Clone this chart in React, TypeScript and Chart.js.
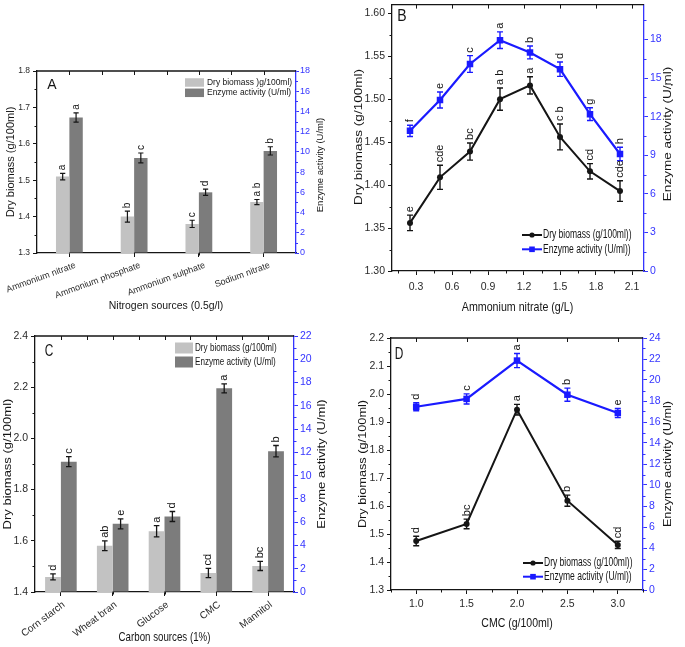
import React, { useEffect, useRef } from 'react';
import { Chart, registerables } from 'chart.js';

Chart.register(...registerables);

const SANS = "'Liberation Sans', Arial, Helvetica, sans-serif";
const NARROW = "'Liberation Sans Narrow', 'Arial Narrow', 'Liberation Sans', Arial, sans-serif";
const INK = '#151515';
const LABEL = '#2a2a2a';
const BLUE = '#1a1aff';
const AXIS_BLUE = '#3535ff';
const LIGHT_BAR = '#c2c2c2';
const DARK_BAR = '#7c7c7c';

// ---------- Panel A : nitrogen sources ----------
const nitrogenSources = ['Ammonium nitrate', 'Ammonium phosphate', 'Ammonium sulphate', 'Sodium nitrate'];
const nitrogenBiomass = [1.51, 1.40, 1.38, 1.44];
const nitrogenBiomassErr = [0.009, 0.015, 0.01, 0.007];
const nitrogenEnzyme = [13.4, 9.4, 6.0, 10.1];
const nitrogenEnzymeErr = [0.46, 0.49, 0.31, 0.41];
const nitrogenBiomassLetters = ['a', 'b', 'c', 'a b'];
const nitrogenEnzymeLetters = ['a', 'c', 'd', 'b'];

// ---------- Panel B : ammonium nitrate dose ----------
const nitrateDoses = [0.25, 0.5, 0.75, 1.0, 1.25, 1.5, 1.75, 2.0];
const nitrateBiomass = [1.356, 1.409, 1.439, 1.500, 1.516, 1.456, 1.416, 1.393];
const nitrateBiomassErr = [0.009, 0.014, 0.01, 0.013, 0.01, 0.015, 0.009, 0.012];
const nitrateEnzyme = [10.9, 13.3, 16.1, 17.95, 17.0, 15.7, 12.2, 9.1];
const nitrateEnzymeErr = [0.44, 0.62, 0.65, 0.65, 0.5, 0.56, 0.5, 0.52];
const nitrateBiomassLetters = ['e', 'cde', 'bc', 'a b', 'a', 'c b', 'cd', 'cde'];
const nitrateEnzymeLetters = ['f', 'e', 'c', 'a', 'b', 'd', 'g', 'h'];

// ---------- Panel C : carbon sources ----------
const carbonSources = ['Corn starch', 'Wheat bran', 'Glucose', 'CMC', 'Mannitol'];
const carbonBiomass = [1.459, 1.581, 1.637, 1.474, 1.502];
const carbonBiomassErr = [0.012, 0.019, 0.022, 0.018, 0.018];
const carbonEnzyme = [11.2, 5.86, 6.49, 17.5, 12.1];
const carbonEnzymeErr = [0.43, 0.43, 0.43, 0.39, 0.49];
const carbonBiomassLetters = ['d', 'ab', 'a', 'cd', 'bc'];
const carbonEnzymeLetters = ['c', 'e', 'd', 'a', 'b'];

// ---------- Panel D : CMC dose ----------
const cmcDoses = [1.0, 1.5, 2.0, 2.5, 3.0];
const cmcBiomass = [1.475, 1.536, 1.944, 1.619, 1.461];
const cmcBiomassErr = [0.017, 0.017, 0.019, 0.02, 0.013];
const cmcEnzyme = [17.45, 18.2, 21.85, 18.6, 16.85];
const cmcEnzymeErr = [0.38, 0.48, 0.67, 0.63, 0.43];
const cmcBiomassLetters = ['d', 'bc', 'a', 'b', 'cd'];
const cmcEnzymeLetters = ['d', 'c', 'a', 'b', 'e'];

// ---------- helpers ----------
function stepValues(min: number, max: number, step: number): number[] {
  const out: number[] = [];
  const k0 = Math.ceil(min / step - 1e-7);
  const k1 = Math.floor(max / step + 1e-7);
  for (let k = k0; k <= k1; k++) out.push(Math.round(k * step * 1e6) / 1e6);
  return out;
}
function minorValues(min: number, max: number, minor: number, major: number): number[] {
  return stepValues(min, max, minor).filter((v) => {
    const r = v / major;
    return Math.abs(r - Math.round(r)) > 1e-6;
  });
}

type TextOpt = { sx?: number; rot?: boolean; align?: CanvasTextAlign; baseline?: CanvasTextBaseline; color?: string; family?: string };
function drawText(ctx: CanvasRenderingContext2D, str: string, x: number, y: number, size: number, o: TextOpt = {}) {
  ctx.save();
  ctx.translate(x, y);
  ctx.scale(o.sx ?? 1, 1);
  if (o.rot) ctx.rotate(-Math.PI / 2);
  ctx.font = `${size}px ${o.family ?? SANS}`;
  ctx.fillStyle = o.color ?? INK;
  ctx.textAlign = o.align ?? 'center';
  ctx.textBaseline = o.baseline ?? 'middle';
  ctx.fillText(str, 0, 0);
  ctx.restore();
}

type Decor = {
  errorsUnder: boolean;
  errors: { ds: number; err: number[]; color: string; width: number; cap: number }[];
  letters: { ds: number; labels: string[]; size: number }[];
  minor: { axis: string; values: number[]; len: number; color: string }[];
  top: { values: number[]; len: number };
  titles: { text: string; x: number; y: number; size: number; rot?: boolean; sx?: number }[];
  panel: { text: string; x: number; y: number; size: number; sx: number };
  legend: {
    kind: 'box' | 'line';
    x1: number; x2: number; h?: number; textX: number; size: number; sx: number;
    items: { label: string; color: string; y: number; point?: 'circle' | 'rect' }[];
  };
  dot?: { x: number; y: number };
};

function valueOf(raw: any): number {
  return typeof raw === 'number' ? raw : raw.y;
}

function drawErrors(chart: any, d: Decor, index: number) {
  const ctx: CanvasRenderingContext2D = chart.ctx;
  d.errors.filter((e) => e.ds === index).forEach((e) => {
    const ds = chart.data.datasets[e.ds];
    const meta = chart.getDatasetMeta(e.ds);
    const scale = chart.scales[ds.yAxisID];
    ctx.save();
    ctx.strokeStyle = e.color;
    ctx.lineWidth = e.width;
    meta.data.forEach((el: any, i: number) => {
      const v = valueOf(ds.data[i]);
      const yt = scale.getPixelForValue(v + e.err[i]);
      const yb = scale.getPixelForValue(v - e.err[i]);
      const x = el.x;
      ctx.beginPath();
      ctx.moveTo(x, yt); ctx.lineTo(x, yb);
      ctx.moveTo(x - e.cap, yt); ctx.lineTo(x + e.cap, yt);
      ctx.moveTo(x - e.cap, yb); ctx.lineTo(x + e.cap, yb);
      ctx.stroke();
    });
    ctx.restore();
  });
}

function decorPlugin(d: Decor) {
  return {
    id: 'decor',
    beforeDatasetDraw(chart: any, args: any) {
      if (d.errorsUnder) drawErrors(chart, d, args.index);
    },
    afterDatasetDraw(chart: any, args: any) {
      if (!d.errorsUnder) drawErrors(chart, d, args.index);
    },
    afterDraw(chart: any) {
      const ctx: CanvasRenderingContext2D = chart.ctx;
      const a = chart.chartArea;
      // letters above error bars
      d.letters.forEach((L) => {
        const ds = chart.data.datasets[L.ds];
        const meta = chart.getDatasetMeta(L.ds);
        const scale = chart.scales[ds.yAxisID];
        const errs = d.errors.find((e) => e.ds === L.ds)!.err;
        meta.data.forEach((el: any, i: number) => {
          const v = valueOf(ds.data[i]);
          const y = scale.getPixelForValue(v + errs[i]) - 3;
          drawText(ctx, L.labels[i], el.x, y, L.size, { rot: true, align: 'left', baseline: 'middle' });
        });
      });
      // top frame line with ticks
      ctx.save();
      ctx.strokeStyle = INK;
      ctx.lineWidth = 1.3;
      ctx.beginPath();
      ctx.moveTo(a.left, a.top); ctx.lineTo(a.right, a.top);
      ctx.stroke();
      ctx.lineWidth = 1;
      ctx.beginPath();
      d.top.values.forEach((v) => {
        const x = Math.round(chart.scales.x.getPixelForValue(v)) + 0.5;
        ctx.moveTo(x, a.top); ctx.lineTo(x, a.top + d.top.len);
      });
      ctx.stroke();
      // minor ticks
      d.minor.forEach((m) => {
        const s = chart.scales[m.axis];
        ctx.strokeStyle = m.color;
        ctx.beginPath();
        m.values.forEach((v) => {
          const p = Math.round(s.getPixelForValue(v)) + 0.5;
          if (m.axis === 'x') { ctx.moveTo(p, a.bottom); ctx.lineTo(p, a.bottom + m.len); }
          else if (s.position === 'left') { ctx.moveTo(a.left, p); ctx.lineTo(a.left - m.len, p); }
          else { ctx.moveTo(a.right, p); ctx.lineTo(a.right + m.len, p); }
        });
        ctx.stroke();
      });
      ctx.restore();
      // titles
      d.titles.forEach((t) => drawText(ctx, t.text, t.x, t.y, t.size, { rot: t.rot, sx: t.sx }));
      // panel letter
      drawText(ctx, d.panel.text, d.panel.x, d.panel.y, d.panel.size, { sx: d.panel.sx });
      // legend
      const lg = d.legend;
      lg.items.forEach((it) => {
        ctx.save();
        if (lg.kind === 'box') {
          ctx.fillStyle = it.color;
          ctx.fillRect(lg.x1, it.y - (lg.h ?? 8) / 2, lg.x2 - lg.x1, lg.h ?? 8);
        } else {
          ctx.strokeStyle = it.color;
          ctx.fillStyle = it.color;
          ctx.lineWidth = 2;
          ctx.beginPath();
          ctx.moveTo(lg.x1, it.y); ctx.lineTo(lg.x2, it.y);
          ctx.stroke();
          const cx = (lg.x1 + lg.x2) / 2;
          ctx.beginPath();
          if (it.point === 'circle') ctx.arc(cx, it.y, 2.6, 0, Math.PI * 2);
          else ctx.rect(cx - 2.8, it.y - 2.8, 5.6, 5.6);
          ctx.fill();
        }
        ctx.restore();
        drawText(ctx, it.label, lg.textX, it.y, lg.size, { sx: lg.sx, align: 'left' });
      });
      if (d.dot) {
        ctx.fillStyle = '#333';
        ctx.fillRect(d.dot.x, d.dot.y, 1.6, 1.6);
      }
    },
  };
}

type AxisP = {
  position: 'left' | 'right' | 'bottom'; min: number; max: number; step: number; dec: number;
  size: number; family: string; color: string; labelColor?: string; fit: number; tickLen?: number; pad?: number;
};
function linAxis(p: AxisP) {
  const isX = p.position === 'bottom';
  return {
    type: 'linear',
    position: p.position,
    min: p.min,
    max: p.max,
    afterBuildTicks: (s: any) => {
      s.ticks = stepValues(p.min, p.max, p.step).map((v) => ({ value: v }));
    },
    afterFit: (s: any) => {
      if (isX) { s.height = p.fit; s.paddingLeft = 0; s.paddingRight = 0; }
      else { s.width = p.fit; s.paddingTop = 0; s.paddingBottom = 0; }
    },
    grid: { drawOnChartArea: false, drawTicks: true, tickLength: p.tickLen ?? 4, color: p.color, tickColor: p.color, lineWidth: 1 },
    border: { display: true, color: p.color, width: 1.3 },
    ticks: {
      stepSize: p.step, autoSkip: false, maxTicksLimit: 40,
      minRotation: 0, maxRotation: 0, padding: p.pad ?? 3,
      color: p.labelColor ?? p.color,
      font: { family: p.family, size: p.size },
      callback: (v: any) => Number(v).toFixed(p.dec),
    },
  };
}

function catAxis(fit: number, size: number, rot: number, offsetX: number, family: string) {
  return {
    type: 'category',
    position: 'bottom',
    offset: true,
    afterFit: (s: any) => { s.height = fit; s.paddingLeft = 0; s.paddingRight = 0; },
    grid: { offset: false, drawOnChartArea: false, drawTicks: true, tickLength: 4, color: INK, tickColor: INK },
    border: { display: true, color: INK, width: 1.3 },
    ticks: {
      autoSkip: false, minRotation: rot, maxRotation: rot, padding: 3, labelOffset: offsetX,
      color: LABEL, font: { family, size },
    },
  };
}

function baseOptions(top: number) {
  return {
    responsive: false,
    animation: false,
    devicePixelRatio: 1,
    layout: { padding: { left: 0, right: 0, top, bottom: 0 } },
    plugins: { legend: { display: false }, tooltip: { enabled: false } },
  };
}

function buildA() {
  const n = nitrogenSources.length;
  const decor: Decor = {
    errorsUnder: false,
    errors: [
      { ds: 0, err: nitrogenBiomassErr, color: INK, width: 1.2, cap: 2.6 },
      { ds: 1, err: nitrogenEnzymeErr, color: INK, width: 1.2, cap: 2.6 },
    ],
    letters: [
      { ds: 0, labels: nitrogenBiomassLetters, size: 10 },
      { ds: 1, labels: nitrogenEnzymeLetters, size: 10 },
    ],
    minor: [
      { axis: 'y', values: minorValues(1.3, 1.8, 0.05, 0.1), len: 2.5, color: INK },
      { axis: 'y1', values: minorValues(0, 18, 1, 2), len: 2, color: AXIS_BLUE },
      { axis: 'x', values: stepValues(0.5, n - 1.5, 1), len: 2.5, color: INK },
    ],
    top: { values: stepValues(0, n - 1, 0.5), len: 4 },
    titles: [
      { text: 'Dry biomass (g/100ml)', x: 11, y: 162, size: 11, rot: true },
      { text: 'Enzyme activity (U/ml)', x: 320, y: 165, size: 9.5, rot: true },
      { text: 'Nitrogen sources (0.5g/l)', x: 166, y: 306, size: 11, sx: 0.95 },
    ],
    panel: { text: 'A', x: 52, y: 85, size: 14, sx: 1 },
    legend: {
      kind: 'box', x1: 185, x2: 204, h: 8.5, textX: 207, size: 9.3, sx: 0.91,
      items: [
        { label: 'Dry biomass )g/100ml)', color: LIGHT_BAR, y: 82.5 },
        { label: 'Enzyme activity (U/ml)', color: DARK_BAR, y: 92.8 },
      ],
    },
  };
  return {
    type: 'bar',
    data: {
      labels: nitrogenSources,
      datasets: [
        { label: 'Dry biomass', data: nitrogenBiomass, backgroundColor: LIGHT_BAR, yAxisID: 'y', categoryPercentage: 0.414, barPercentage: 1 },
        { label: 'Enzyme activity', data: nitrogenEnzyme, backgroundColor: DARK_BAR, yAxisID: 'y1', categoryPercentage: 0.414, barPercentage: 1 },
      ],
    },
    options: {
      ...baseOptions(71),
      scales: {
        x: catAxis(65, 9, 20, 6, SANS),
        y: linAxis({ position: 'left', min: 1.3, max: 1.8, step: 0.1, dec: 1, size: 8.5, family: SANS, color: INK, labelColor: LABEL, fit: 37 }),
        y1: linAxis({ position: 'right', min: 0, max: 18, step: 2, dec: 0, size: 9, family: SANS, color: AXIS_BLUE, fit: 44, tickLen: 3, pad: 1 }),
      },
    },
    plugins: [decorPlugin(decor)],
  };
}

function buildB() {
  const decor: Decor = {
    errorsUnder: true,
    errors: [
      { ds: 0, err: nitrateBiomassErr, color: INK, width: 1.4, cap: 3 },
      { ds: 1, err: nitrateEnzymeErr, color: BLUE, width: 1.4, cap: 3 },
    ],
    letters: [
      { ds: 0, labels: nitrateBiomassLetters, size: 11 },
      { ds: 1, labels: nitrateEnzymeLetters, size: 11 },
    ],
    minor: [
      { axis: 'y', values: minorValues(1.3, 1.61, 0.025, 0.05), len: 2.5, color: INK },
      { axis: 'y1', values: minorValues(0, 20.72, 1.5, 3), len: 2.5, color: AXIS_BLUE },
      { axis: 'x', values: minorValues(0.1, 2.2, 0.15, 0.3), len: 2.5, color: INK },
    ],
    top: { values: stepValues(0.3, 2.1, 0.3), len: 4 },
    titles: [
      { text: 'Dry biomass (g/100ml)', x: 19, y: 137, size: 13.5, rot: true, sx: 0.85 },
      { text: 'Enzyme activity (U/ml)', x: 328, y: 134, size: 13.5, rot: true, sx: 0.85 },
      { text: 'Ammonium nitrate (g/L)', x: 177.5, y: 307, size: 13, sx: 0.82 },
    ],
    panel: { text: 'B', x: 62, y: 16, size: 16.5, sx: 0.85 },
    legend: {
      kind: 'line', x1: 182, x2: 202, textX: 203, size: 12, sx: 0.71,
      items: [
        { label: 'Dry biomass (g/100ml))', color: INK, y: 235, point: 'circle' },
        { label: 'Enzyme activity (U/ml))', color: BLUE, y: 249.3, point: 'rect' },
      ],
    },
    dot: { x: 331, y: 84 },
  };
  return {
    type: 'line',
    data: {
      datasets: [
        {
          label: 'Dry biomass (g/100ml))',
          data: nitrateDoses.map((x, i) => ({ x, y: nitrateBiomass[i] })),
          borderColor: INK, backgroundColor: INK, borderWidth: 2, tension: 0,
          pointStyle: 'circle', pointRadius: 3, pointBorderWidth: 0, yAxisID: 'y',
        },
        {
          label: 'Enzyme activity (U/ml))',
          data: nitrateDoses.map((x, i) => ({ x, y: nitrateEnzyme[i] })),
          borderColor: BLUE, backgroundColor: BLUE, borderWidth: 2.2, tension: 0,
          pointStyle: 'rect', pointRadius: 4.6, pointBorderWidth: 0, yAxisID: 'y1',
        },
      ],
    },
    options: {
      ...baseOptions(3),
      scales: {
        x: linAxis({ position: 'bottom', min: 0.1, max: 2.2, step: 0.3, dec: 1, size: 10.5, family: NARROW, color: INK, labelColor: LABEL, fit: 47, pad: 6 }),
        y: linAxis({ position: 'left', min: 1.3, max: 1.61, step: 0.05, dec: 2, size: 10.5, family: NARROW, color: INK, labelColor: LABEL, fit: 52 }),
        y1: linAxis({ position: 'right', min: 0, max: 20.72, step: 3, dec: 0, size: 10.5, family: NARROW, color: AXIS_BLUE, fit: 41, pad: 2 }),
      },
    },
    plugins: [decorPlugin(decor)],
  };
}

function buildC() {
  const n = carbonSources.length;
  const decor: Decor = {
    errorsUnder: false,
    errors: [
      { ds: 0, err: carbonBiomassErr, color: INK, width: 1.3, cap: 2.8 },
      { ds: 1, err: carbonEnzymeErr, color: INK, width: 1.3, cap: 2.8 },
    ],
    letters: [
      { ds: 0, labels: carbonBiomassLetters, size: 11 },
      { ds: 1, labels: carbonEnzymeLetters, size: 11 },
    ],
    minor: [
      { axis: 'y', values: minorValues(1.4, 2.4, 0.1, 0.2), len: 2.5, color: INK },
      { axis: 'y1', values: minorValues(0, 22, 1, 2), len: 2.5, color: AXIS_BLUE },
      { axis: 'x', values: stepValues(0.5, n - 1.5, 1), len: 2.5, color: INK },
    ],
    top: { values: stepValues(0, n - 1, 0.5), len: 4 },
    titles: [
      { text: 'Dry biomass (g/100ml)', x: 8, y: 146, size: 13, rot: true, sx: 0.85 },
      { text: 'Enzyme activity (U/ml)', x: 321.7, y: 146, size: 13, rot: true, sx: 0.85 },
      { text: 'Carbon sources (1%)', x: 164.5, y: 319.3, size: 13.5, sx: 0.72 },
    ],
    panel: { text: 'C', x: 49, y: 33, size: 16.5, sx: 0.72 },
    legend: {
      kind: 'box', x1: 175, x2: 193, h: 11, textX: 195, size: 11.6, sx: 0.7,
      items: [
        { label: 'Dry biomass (g/100ml)', color: LIGHT_BAR, y: 30 },
        { label: 'Enzyme activity (U/ml)', color: DARK_BAR, y: 44 },
      ],
    },
  };
  return {
    type: 'bar',
    data: {
      labels: carbonSources,
      datasets: [
        { label: 'Dry biomass', data: carbonBiomass, backgroundColor: LIGHT_BAR, yAxisID: 'y', categoryPercentage: 0.61, barPercentage: 1 },
        { label: 'Enzyme activity', data: carbonEnzyme, backgroundColor: DARK_BAR, yAxisID: 'y1', categoryPercentage: 0.61, barPercentage: 1 },
      ],
    },
    options: {
      ...baseOptions(18),
      scales: {
        x: catAxis(55, 10, 37, 3, SANS),
        y: linAxis({ position: 'left', min: 1.4, max: 2.4, step: 0.2, dec: 1, size: 10.5, family: NARROW, color: INK, labelColor: LABEL, fit: 35 }),
        y1: linAxis({ position: 'right', min: 0, max: 22, step: 2, dec: 0, size: 10.5, family: NARROW, color: AXIS_BLUE, fit: 46, pad: 2 }),
      },
    },
    plugins: [decorPlugin(decor)],
  };
}

function buildD() {
  const decor: Decor = {
    errorsUnder: true,
    errors: [
      { ds: 0, err: cmcBiomassErr, color: INK, width: 1.4, cap: 3 },
      { ds: 1, err: cmcEnzymeErr, color: BLUE, width: 1.4, cap: 3 },
    ],
    letters: [
      { ds: 0, labels: cmcBiomassLetters, size: 11 },
      { ds: 1, labels: cmcEnzymeLetters, size: 11 },
    ],
    minor: [
      { axis: 'y', values: minorValues(1.3, 2.2, 0.05, 0.1), len: 2.5, color: INK },
      { axis: 'y1', values: minorValues(0, 24, 1, 2), len: 2.5, color: AXIS_BLUE },
      { axis: 'x', values: minorValues(0.75, 3.25, 0.25, 0.5), len: 2.5, color: INK },
    ],
    top: { values: stepValues(1.0, 3.0, 0.5), len: 4 },
    titles: [
      { text: 'Dry biomass (g/100ml)', x: 23.3, y: 146, size: 12.75, rot: true, sx: 0.85 },
      { text: 'Enzyme activity (U/ml)', x: 328.3, y: 146, size: 12.7, rot: true, sx: 0.85 },
      { text: 'CMC (g/100ml)', x: 177, y: 305.3, size: 13.5, sx: 0.78 },
    ],
    panel: { text: 'D', x: 59, y: 36, size: 16.5, sx: 0.72 },
    legend: {
      kind: 'line', x1: 183, x2: 203, textX: 204, size: 12, sx: 0.71,
      items: [
        { label: 'Dry biomass (g/100ml))', color: INK, y: 245, point: 'circle' },
        { label: 'Enzyme activity (U/ml))', color: BLUE, y: 258.7, point: 'rect' },
      ],
    },
  };
  return {
    type: 'line',
    data: {
      datasets: [
        {
          label: 'Dry biomass (g/100ml))',
          data: cmcDoses.map((x, i) => ({ x, y: cmcBiomass[i] })),
          borderColor: INK, backgroundColor: INK, borderWidth: 2, tension: 0,
          pointStyle: 'circle', pointRadius: 3, pointBorderWidth: 0, yAxisID: 'y',
        },
        {
          label: 'Enzyme activity (U/ml))',
          data: cmcDoses.map((x, i) => ({ x, y: cmcEnzyme[i] })),
          borderColor: BLUE, backgroundColor: BLUE, borderWidth: 2.2, tension: 0,
          pointStyle: 'rect', pointRadius: 4.6, pointBorderWidth: 0, yAxisID: 'y1',
        },
      ],
    },
    options: {
      ...baseOptions(20),
      scales: {
        x: linAxis({ position: 'bottom', min: 0.75, max: 3.25, step: 0.5, dec: 1, size: 10.5, family: NARROW, color: INK, labelColor: LABEL, fit: 57, pad: 4 }),
        y: linAxis({ position: 'left', min: 1.3, max: 2.2, step: 0.1, dec: 1, size: 10.5, family: NARROW, color: INK, labelColor: LABEL, fit: 51 }),
        y1: linAxis({ position: 'right', min: 0, max: 24, step: 2, dec: 0, size: 10.5, family: NARROW, color: AXIS_BLUE, fit: 42, pad: 2 }),
      },
    },
    plugins: [decorPlugin(decor)],
  };
}

function Panel({ left, top, w, h, build }: { left: number; top: number; w: number; h: number; build: () => any }) {
  const ref = useRef<HTMLCanvasElement>(null);
  useEffect(() => {
    const chart = new Chart(ref.current as HTMLCanvasElement, build());
    return () => chart.destroy();
  }, []);
  return (
    <canvas
      ref={ref}
      width={w}
      height={h}
      style={{ position: 'absolute', left, top, width: w, height: h, display: 'block' }}
    />
  );
}

export default function App() {
  return (
    <div style={{ position: 'fixed', left: 0, top: 0, width: 685, height: 647, background: '#ffffff', overflow: 'hidden' }}>
      <Panel left={0} top={0} w={340} h={318} build={buildA} />
      <Panel left={340} top={0} w={345} h={318} build={buildB} />
      <Panel left={0} top={318} w={340} h={329} build={buildC} />
      <Panel left={340} top={318} w={345} h={329} build={buildD} />
    </div>
  );
}
